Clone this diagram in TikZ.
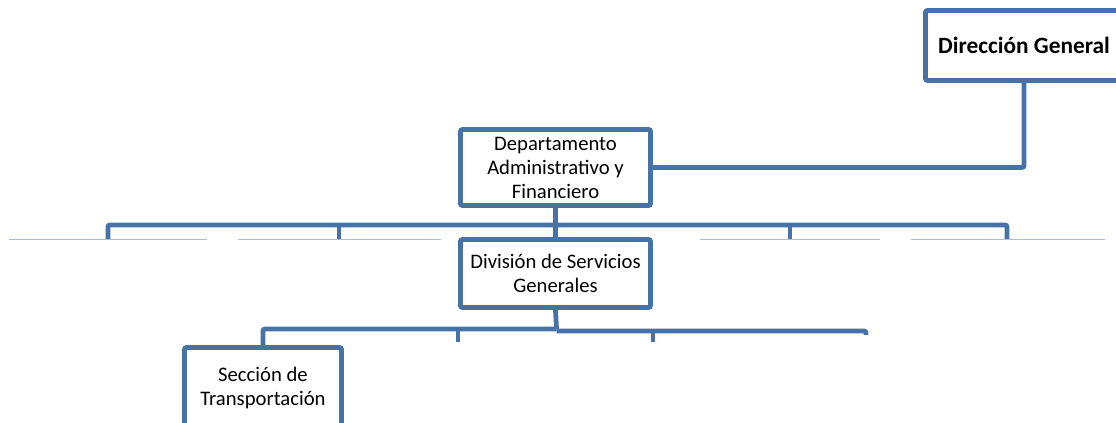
\documentclass[tikz,border=0pt]{standalone}
\usepackage{fontspec}
\setmainfont{Carlito}
\definecolor{orgblue}{RGB}{70,114,168}
\definecolor{guideblue}{RGB}{166,190,222}
\tikzset{
    unit/.style = {draw=orgblue, line width=3.6pt, rounded corners=1.5pt, fill=white, align=center, inner sep=0pt, font=\fontsize{15.5}{18}\selectfont},
    link/.style = {draw=orgblue, line width=3.6pt, rounded corners=1.5pt},
    guide/.style = {draw=guideblue, line width=0.9pt}
}
\begin{document}
\begin{tikzpicture}[x=0.75pt, y=-0.75pt]
        \clip (0,0) rectangle (1116,423);

        % thin guide line behind the chart
        \draw[guide] (9,239.5) -- (207,239.5);
        \draw[guide] (238,239.5) -- (441,239.5);
        \draw[guide] (700,239.5) -- (880,239.5);
        \draw[guide] (911,239.5) -- (1105,239.5);

        \node[unit, minimum width=147.75pt, minimum height=52.5pt, font=\fontsize{17.5}{20}\selectfont\bfseries] (dg) at (1024,45.5) {Dirección General};
        \node[unit, minimum width=142.5pt, minimum height=57pt] (daf) at (555.5,167.5) {Departamento\\Administrativo y\\Financiero};
        \node[unit, minimum width=142.5pt, minimum height=51pt] (dsg) at (555.5,273.5) {División de Servicios\\Generales};
        \node[unit, minimum width=117.75pt, minimum height=60pt] (st) at (263,387.5) {Sección de\\Transportación};

        % branch points
        \coordinate (bus1) at (555.5,225);
        \coordinate (a1) at (108,239);
        \coordinate (a2) at (339,239);
        \coordinate (a4) at (790,239);
        \coordinate (a5) at (1007,239);
        \coordinate (bus2) at (556.5,329);
        \coordinate (bus3) at (556.5,331);
        \coordinate (c3) at (458,342);
        \coordinate (c4) at (653,342);
        \coordinate (c5) at (866,335);

        \draw[link] (dg.south) |- (daf.east);

        \draw[link] (daf.south) -- (dsg.north);
        \draw[link] (a1) |- (bus1) -| (a5);
        \draw[link] (a2) -- (a2 |- bus1);
        \draw[link] (a4) -- (a4 |- bus1);

        \draw[link] (dsg.south) -- (bus2);
        \draw[link] (st.north) |- (bus2);
        \draw[link] (bus2 |- bus3) -| (c5);
        \draw[link] (c3) -- (c3 |- bus2);
        \draw[link] (c4) -- (c4 |- bus3);

    \end{tikzpicture}
\end{document}
